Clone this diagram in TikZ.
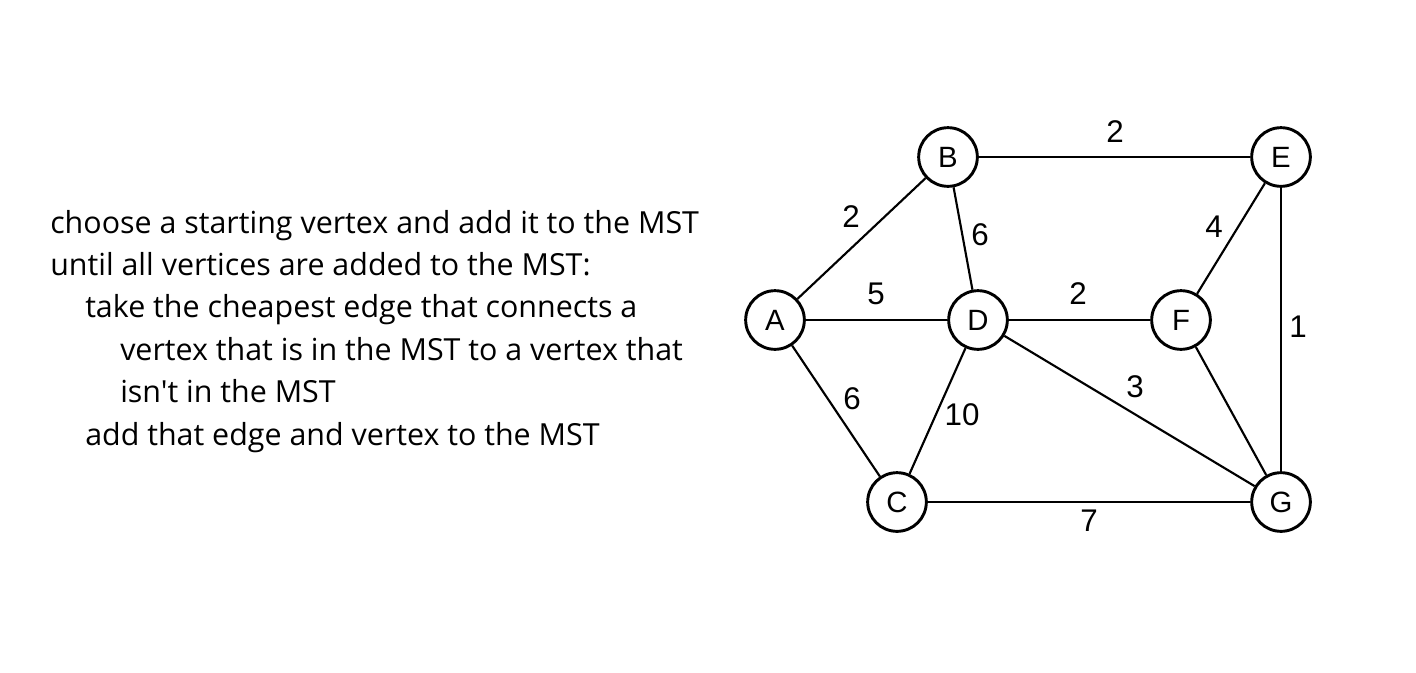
\documentclass[tikz,border=0pt]{standalone}
\usepackage{fontspec}
\setmainfont{Liberation Sans}
\newfontfamily\textfnt{Open Sans}
\begin{document}
\begin{tikzpicture}[x=0.75pt,y=-0.75pt,
  vtx/.style={circle,draw,line width=2.2pt,minimum size=44pt,inner sep=0pt,font=\fontsize{22}{22}\selectfont},
  edge/.style={line width=1.6pt},
  wt/.style={font=\fontsize{23.5}{23.5}\selectfont,inner sep=0pt},
  ln/.style={anchor=base west,inner sep=0pt,font=\textfnt\fontsize{22.8}{28}\selectfont}]
\useasboundingbox (0,0) rectangle (1416,672);
\node[ln] (t1) at (50,233) {choose a starting vertex and add it to the MST};
\node[ln] (t2) at (50,275) {until all vertices are added to the MST:};
\node[ln] (t3) at (85,317) {take the cheapest edge that connects a};
\node[ln] (t4) at (120,360) {vertex that is in the MST to a vertex that};
\node[ln] (t5) at (120,402) {isn't in the MST};
\node[ln] (t6) at (85,445) {add that edge and vertex to the MST};
\node[vtx] (A) at (775,320) {A};
\node[vtx] (B) at (948,157) {B};
\node[vtx] (C) at (897,502) {C};
\node[vtx] (D) at (978,320) {D};
\node[vtx] (E) at (1281,157) {E};
\node[vtx] (F) at (1181,320) {F};
\node[vtx] (G) at (1281,502) {G};
\draw[edge] (B) -- (E);
\draw[edge] (A) -- (B);
\draw[edge] (B) -- (D);
\draw[edge] (A) -- (D);
\draw[edge] (D) -- (F);
\draw[edge] (E) -- (F);
\draw[edge] (E) -- (G);
\draw[edge] (D) -- (G);
\draw[edge] (A) -- (C);
\draw[edge] (D) -- (C);
\draw[edge] (F) -- (G);
\draw[edge] (C) -- (G);
\node[wt] (wBE) at (1115,132) {2};
\node[wt] (wAB) at (851,217) {2};
\node[wt] (wBD) at (980,235) {6};
\node[wt] (wAD) at (876,294) {5};
\node[wt] (wDF) at (1078,294) {2};
\node[wt] (wEF) at (1214,227) {4};
\node[wt] (wEG) at (1298,327) {1};
\node[wt] (wDG) at (1135,387) {3};
\node[wt] (wAC) at (852,399) {6};
\node[wt] (wDC) at (962,415) {10};
\node[wt] (wCG) at (1089,521) {7};
\end{tikzpicture}
\end{document}
